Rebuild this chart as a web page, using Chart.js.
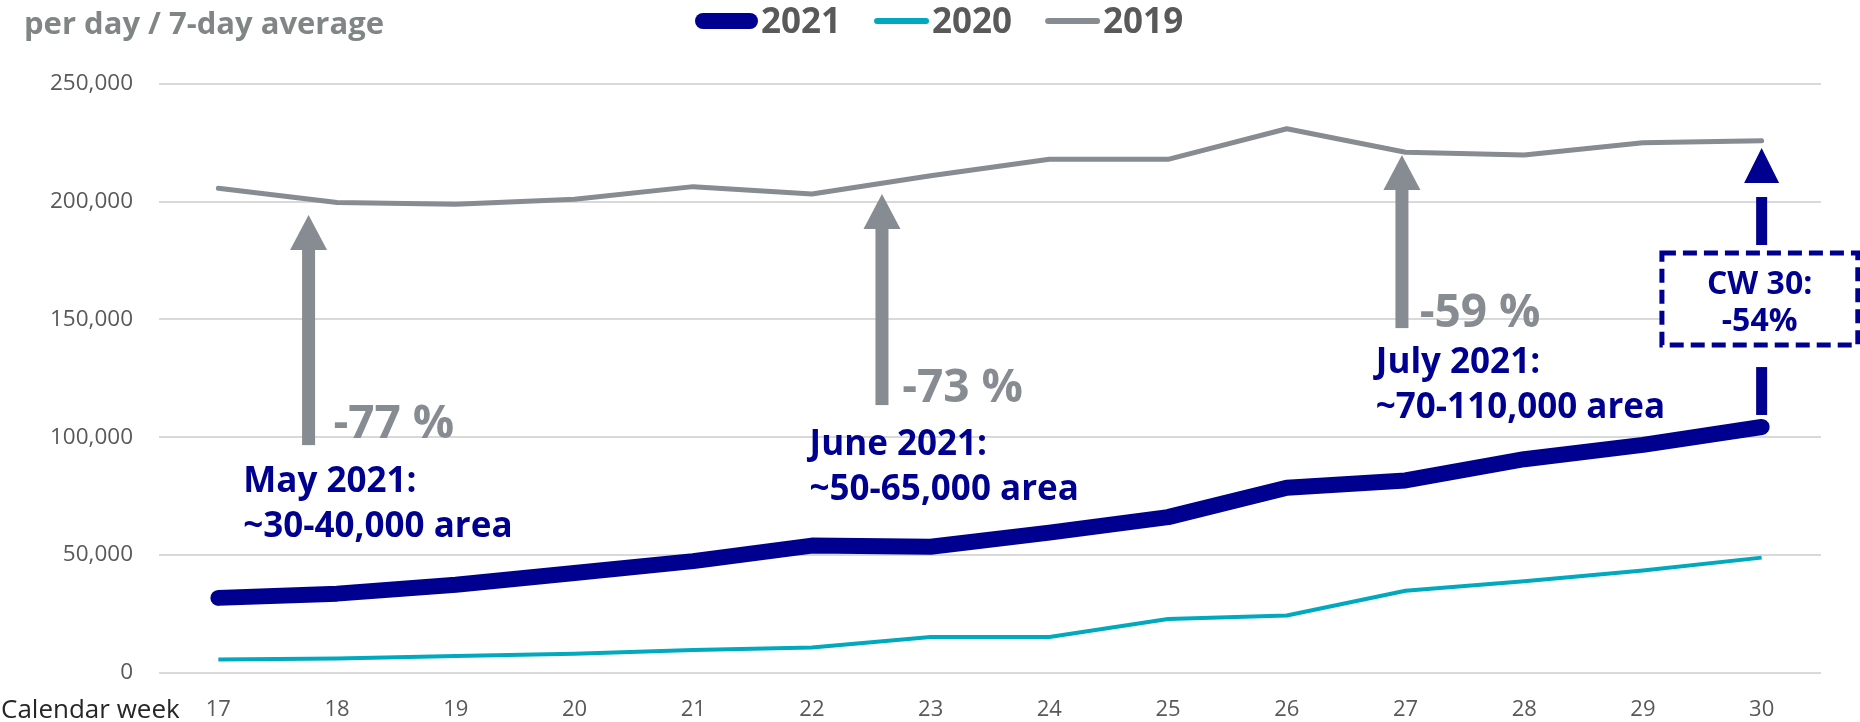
<!DOCTYPE html>
<html>
<head>
<meta charset="utf-8">
<script src="https://cdn.jsdelivr.net/npm/chart.js@4.4.0/dist/chart.umd.min.js"></script>
<style>
  html, body { margin: 0; padding: 0; background: #fff; }
</style>
</head>
<body>
<canvas id="myChart" width="1860" height="722"></canvas>
<script>
    // Datos
    const semanas = ['17', '18', '19', '20', '21', '22', '23', '24', '25', '26', '27', '28', '29', '30'];
    const datos2021 = [31700, 33500, 37300, 42300, 47300, 53900, 53400, 59400, 66000, 78500, 81600, 90600, 96700, 104300];
    const datos2020 = [5500, 6000, 7000, 8000, 9600, 10600, 15100, 15100, 22700, 24200, 34700, 38800, 43300, 48800];
    const datos2019 = [205700, 199700, 198900, 201000, 206400, 203300, 211000, 218000, 218000, 231000, 221000, 219800, 225000, 225900];
    const marcasY = [0, 50000, 100000, 150000, 200000, 250000];

    // Flechas grises (x = indice de semana, desde/hasta = valores)
    const flechas = [
      { x: 0.76, desde: 96600, hasta: 194300, texto: '-77 %', tx: 0.97, ty: 99600 },
      { x: 5.59, desde: 113600, hasta: 203300, texto: '-73 %', tx: 5.76, ty: 115000 },
      { x: 9.97, desde: 146300, hasta: 219800, texto: '-59 %', tx: 10.12, ty: 146800 }
    ];
    // Textos de los meses
    const meses = [
      { x: 0.21, y: 76700, lineas: ['May 2021:', '~30-40,000 area'] },
      { x: 4.98, y: 92400, lineas: ['June 2021:', '~50-65,000 area'] },
      { x: 9.75, y: 127200, lineas: ['July 2021:', '~70-110,000 area'] }
    ];
    // Flecha azul y caja de CW 30
    const flechaAzul = { x: 13, desde: 109400, hasta: 222800 };
    const caja = { x1: 12.16, x2: 13.81, arriba: 178200, abajo: 139100, lineas: ['CW 30:', '-54%'] };

    const AZUL = '#000090';
    const GRIS = '#868c91';
    const FUENTE = '"Open Sans", "Noto Sans", sans-serif';

    const pluginExtras = {
      id: 'extras',
      afterDatasetsDraw(chart) {
        const ctx = chart.ctx;
        const xs = chart.scales.x;
        const ys = chart.scales.y;
        ctx.save();

        // flechas grises
        flechas.forEach(f => {
          const px = xs.getPixelForValue(f.x);
          const y1 = ys.getPixelForValue(f.hasta);
          const y0 = ys.getPixelForValue(f.desde);
          ctx.fillStyle = GRIS;
          ctx.fillRect(px - 6.5, y1 + 34, 13, y0 - y1 - 34);
          ctx.beginPath();
          ctx.moveTo(px, y1);
          ctx.lineTo(px - 18.5, y1 + 35);
          ctx.lineTo(px + 18.5, y1 + 35);
          ctx.closePath();
          ctx.fill();
          ctx.font = 'bold 46px ' + FUENTE;
          ctx.textAlign = 'left';
          ctx.textBaseline = 'alphabetic';
          ctx.fillText(f.texto, xs.getPixelForValue(f.tx), ys.getPixelForValue(f.ty));
        });

        // textos de meses
        ctx.fillStyle = AZUL;
        ctx.font = 'bold 35px ' + FUENTE;
        meses.forEach(m => {
          const px = xs.getPixelForValue(m.x);
          const py = ys.getPixelForValue(m.y);
          m.lineas.forEach((l, i) => ctx.fillText(l, px, py + i * 45));
        });

        // flecha azul discontinua
        const ax = xs.getPixelForValue(flechaAzul.x);
        const aTop = ys.getPixelForValue(flechaAzul.hasta);
        const aBot = ys.getPixelForValue(flechaAzul.desde);
        const cTop = ys.getPixelForValue(caja.arriba);
        const cBot = ys.getPixelForValue(caja.abajo);
        ctx.fillStyle = AZUL;
        ctx.beginPath();
        ctx.moveTo(ax, aTop);
        ctx.lineTo(ax - 17.5, aTop + 35);
        ctx.lineTo(ax + 17.5, aTop + 35);
        ctx.closePath();
        ctx.fill();
        ctx.fillRect(ax - 5.5, aTop + 49, 11, cTop - 8 - (aTop + 49));
        ctx.fillRect(ax - 5.5, cBot + 22, 11, aBot - (cBot + 22));

        // caja
        const cx1 = xs.getPixelForValue(caja.x1);
        const cx2 = xs.getPixelForValue(caja.x2);
        ctx.fillStyle = '#ffffff';
        ctx.fillRect(cx1, cTop, cx2 - cx1, cBot - cTop);
        ctx.strokeStyle = AZUL;
        ctx.lineWidth = 5;
        ctx.setLineDash([14, 7]);
        ctx.strokeRect(cx1, cTop, cx2 - cx1, cBot - cTop);
        ctx.setLineDash([]);
        ctx.fillStyle = AZUL;
        ctx.font = 'bold 32px ' + FUENTE;
        ctx.textAlign = 'center';
        ctx.fillText(caja.lineas[0], ax - 2, cTop + 41);
        ctx.fillText(caja.lineas[1], ax - 2, cTop + 78);

        ctx.restore();
      },
      afterDraw(chart) {
        const ctx = chart.ctx;
        ctx.save();
        // subtitulo
        ctx.fillStyle = '#7f8685';
        ctx.font = 'bold 31px ' + FUENTE;
        ctx.textAlign = 'left';
        ctx.textBaseline = 'alphabetic';
        ctx.fillText('per day / 7-day average', 24, 34);

        // leyenda
        const largos = [63, 55, 55];
        const grosores = [16, 6, 6];
        let x = 695;
        ctx.font = 'bold 35px ' + FUENTE;
        ctx.lineCap = 'round';
        chart.data.datasets.forEach((ds, i) => {
          ctx.strokeStyle = ds.borderColor;
          ctx.lineWidth = grosores[i];
          ctx.beginPath();
          ctx.moveTo(x + grosores[i] / 2, 21);
          ctx.lineTo(x + largos[i] - grosores[i] / 2, 21);
          ctx.stroke();
          x += largos[i] + 3;
          ctx.fillStyle = '#595959';
          ctx.fillText(ds.label, x, 33);
          x += ctx.measureText(ds.label).width + 33;
        });

        // titulo del eje x
        ctx.fillStyle = '#262626';
        ctx.font = '26px ' + FUENTE;
        ctx.fillText('Calendar week', 1, 718);
        ctx.restore();
      }
    };

    const ctx = document.getElementById('myChart').getContext('2d');

    const myChart = new Chart(ctx, {
      type: 'line',
      data: {
        labels: semanas,
        datasets: [{
          label: '2021',
          data: datos2021,
          borderColor: AZUL,
          borderWidth: 16,
          borderCapStyle: 'round',
          borderJoinStyle: 'round',
          pointRadius: 0
        }, {
          label: '2020',
          data: datos2020,
          borderColor: '#00a9bd',
          borderWidth: 4,
          borderJoinStyle: 'round',
          pointRadius: 0
        }, {
          label: '2019',
          data: datos2019,
          borderColor: GRIS,
          borderWidth: 5,
          borderCapStyle: 'round',
          borderJoinStyle: 'round',
          pointRadius: 0
        }]
      },
      options: {
        responsive: false,
        animation: false,
        devicePixelRatio: 1,
        layout: { padding: { left: 0, right: 39, top: 84, bottom: 0 } },
        plugins: {
          legend: { display: false },
          tooltip: { enabled: false }
        },
        scales: {
          x: {
            offset: true,
            grid: { display: false },
            border: { display: false },
            ticks: {
              color: '#595959',
              font: { family: FUENTE, size: 22 },
              padding: 16
            },
            afterFit: s => { s.height = 49.5; }
          },
          y: {
            min: 0,
            max: 250000,
            afterBuildTicks: s => { s.ticks = marcasY.map(v => ({ value: v })); },
            grid: { color: '#d9d9d9', lineWidth: 2, drawTicks: false },
            border: { display: false },
            ticks: {
              color: '#595959',
              font: { family: FUENTE, size: 22.5 },
              padding: 26,
              callback: v => v.toLocaleString('en-US')
            },
            afterFit: s => { s.width = 159; }
          }
        }
      },
      plugins: [pluginExtras]
    });
</script>
</body>
</html>
